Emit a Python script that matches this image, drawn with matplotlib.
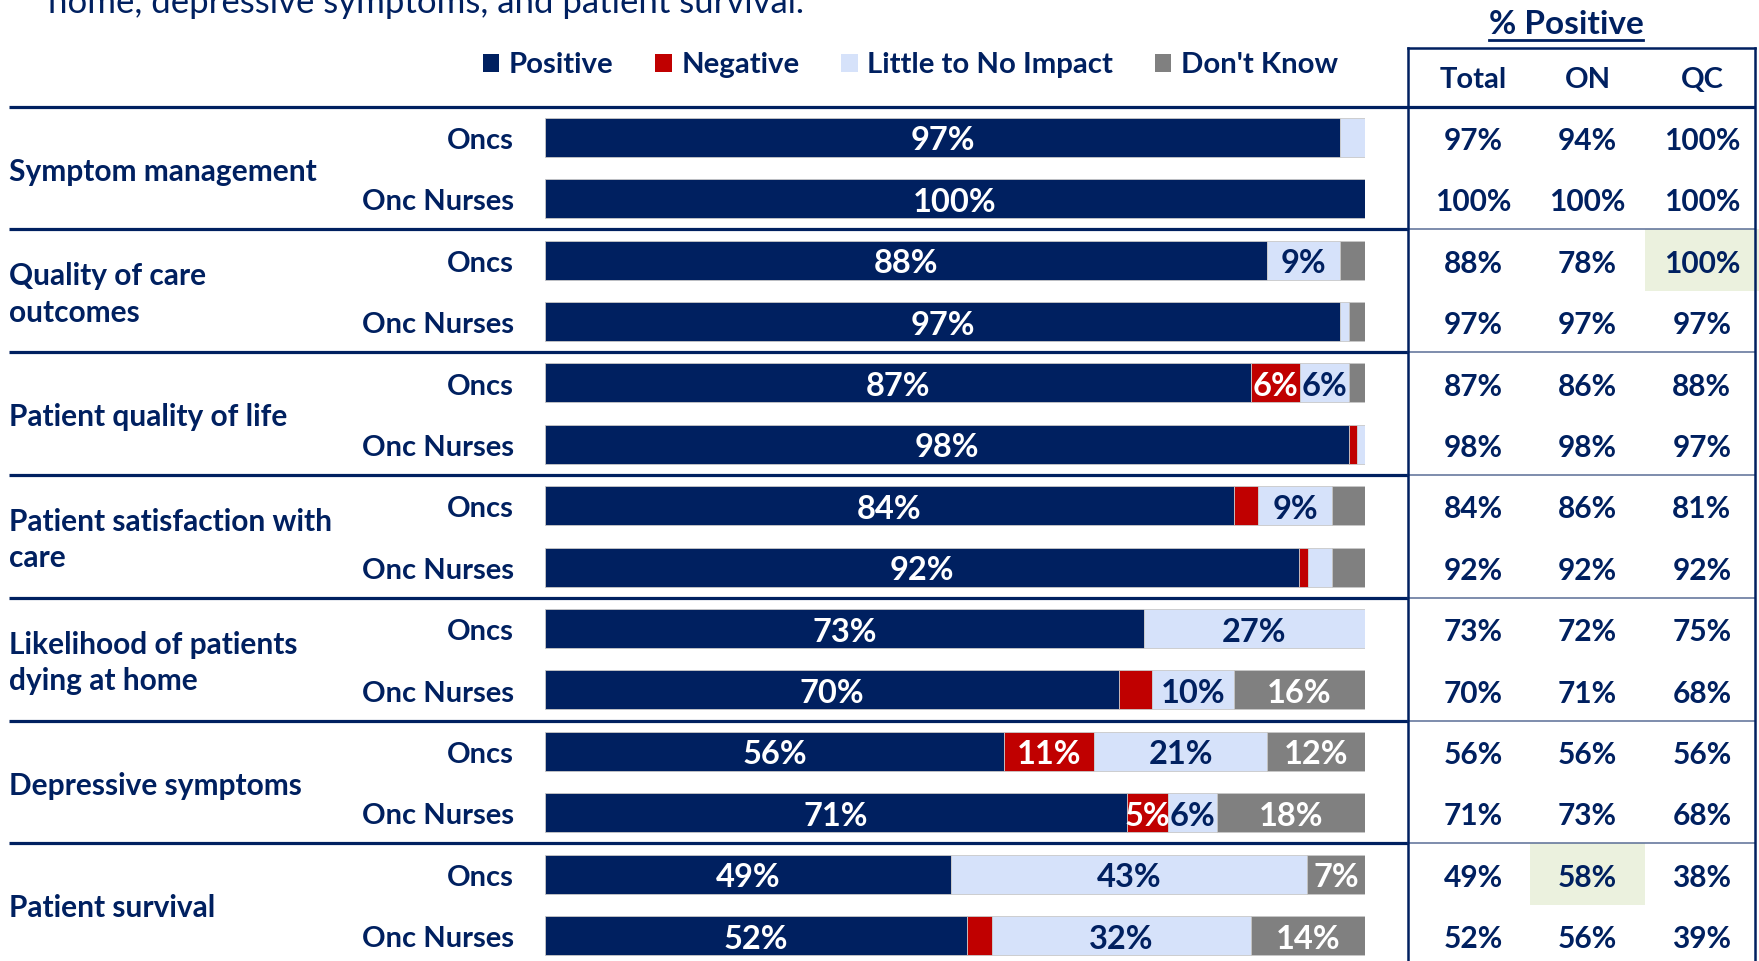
import matplotlib
matplotlib.use("Agg")
import matplotlib.pyplot as plt
import matplotlib.transforms as mtransforms
from matplotlib.patches import Rectangle, Patch
from matplotlib.lines import Line2D
import numpy as np

plt.rcParams["font.family"] = ["Lato", "DejaVu Sans"]

# chart data
categories = [
    "Symptom management",
    "Quality of care\noutcomes",
    "Patient quality of life",
    "Patient satisfaction with\ncare",
    "Likelihood of patients\ndying at home",
    "Depressive symptoms",
    "Patient survival",
]
groups = ["Oncs", "Onc Nurses"]
series = ["Positive", "Negative", "Little to No Impact", "Don't Know"]

positive = [97, 100, 88, 97, 87, 98, 84, 92, 73, 70, 56, 71, 49, 52]
negative = [0, 0, 0, 0, 6, 1, 3, 1, 0, 4, 11, 5, 0, 3]
little = [3, 0, 9, 1, 6, 1, 9, 3, 27, 10, 21, 6, 43, 32]
dont_know = [0, 0, 3, 2, 2, 0, 4, 4, 0, 16, 12, 18, 7, 14]

table_cols = ["Total", "ON", "QC"]
pos_total = [97, 100, 88, 97, 87, 98, 84, 92, 73, 70, 56, 71, 49, 52]
pos_on = [94, 100, 78, 97, 86, 98, 86, 92, 72, 71, 56, 73, 58, 56]
pos_qc = [100, 100, 100, 97, 88, 97, 81, 92, 75, 68, 56, 68, 38, 39]
highlighted = [(2, 2), (12, 1)]  # (row, column)

NAVY = "#002060"
RED = "#C00000"
LIGHT = "#D6E2FA"
GRAY = "#808080"
HILITE = "#EBF1DE"
colors = [NAVY, RED, LIGHT, GRAY]
label_colors = ["white", "white", NAVY, "white"]

W, H = 1759, 961
fig = plt.figure(figsize=(W / 100, H / 100), dpi=100)

n_rows = len(positive)
row_px = 61.4
top_px = 106.6
ybot = -0.5 + (H - top_px) / row_px
dy = 0.06  # text sits a bit low in the rows

# bars
ax = fig.add_axes([545 / W, 0, 820 / W, (H - top_px) / H])
ax.set_xlim(0, 100)
ax.set_ylim(ybot, -0.5)
ax.axis("off")

vals = np.array([positive, negative, little, dont_know], dtype=float)
shares = vals / vals.sum(axis=0) * 100
rows = np.arange(n_rows)
left = np.zeros(n_rows)
for k in range(len(series)):
    ax.barh(rows, shares[k], left=left, height=0.635, color=colors[k],
            edgecolor="#C8C8C8", linewidth=0.6)
    for i in rows:
        if vals[k, i] >= 5:
            ax.text(left[i] + shares[k, i] / 2, i + dy, f"{int(vals[k, i])}%",
                    ha="center", va="center", color=label_colors[k],
                    fontsize=23.5, fontweight="bold")
    left += shares[k]

blend = mtransforms.blended_transform_factory(fig.transFigure, ax.transData)

# row labels
for g, cat in enumerate(categories):
    ax.text(9 / W, 2 * g + 0.5 + dy, cat, transform=blend, ha="left", va="center",
            fontsize=21.5, fontweight="bold", color=NAVY, linespacing=1.38)
for i in rows:
    ax.text(-3.8, i + dy, groups[i % 2], ha="right", va="center",
            fontsize=21, fontweight="bold", color=NAVY)

# separators
for g in range(len(categories)):
    y = 2 * g - 0.5
    x1 = 1755 / W if g == 0 else 1408 / W
    ax.plot([9 / W, x1], [y, y], transform=blend, color=NAVY, lw=2.3,
            clip_on=False, solid_capstyle="butt")

# table
tab = fig.add_axes([1416 / W, 0, 343 / W, (H - top_px) / H])
tab.set_xlim(0, 3)
tab.set_ylim(ybot, -0.5)
tab.axis("off")
for r, c in highlighted:
    tab.add_patch(Rectangle((c, r - 0.5), 1, 1, color=HILITE, zorder=0, lw=0))
for c, col in enumerate([pos_total, pos_on, pos_qc]):
    for i, v in enumerate(col):
        tab.text(c + 0.5, i + dy, f"{v}%", ha="center", va="center",
                 fontsize=21.5, fontweight="bold", color=NAVY)
head_y = -0.5 - (top_px - 80) / row_px
box_top = -0.5 - (top_px - 48) / row_px
for c, name in enumerate(table_cols):
    tab.text(c + 0.5, head_y, name, ha="center", va="center",
             fontsize=21, fontweight="bold", color=NAVY)

tblend = mtransforms.blended_transform_factory(fig.transFigure, tab.transData)
for g in range(1, len(categories)):
    tab.plot([1408 / W, 1755 / W], [2 * g - 0.5] * 2, transform=tblend,
             color="#5A6E96", lw=1.1, clip_on=False)
for xb in [1408 / W, 1755 / W]:
    tab.plot([xb, xb], [box_top, ybot], transform=tblend, color=NAVY, lw=1.8,
             clip_on=False)
tab.plot([1408 / W, 1755 / W], [box_top, box_top], transform=tblend, color=NAVY,
         lw=1.8, clip_on=False)

# "% Positive" header with underline
t = fig.text(1566 / W, 1 - 24 / H, "% Positive", ha="center", va="center",
             fontsize=24, fontweight="bold", color=NAVY)
fig.canvas.draw()
bb = t.get_window_extent().transformed(fig.transFigure.inverted())
fig.add_artist(Line2D([bb.x0, bb.x1], [1 - 40 / H] * 2, color=NAVY, lw=2))

# cut-off subtitle line
fig.text(48 / W, 1 - 13 / H, "home, depressive symptoms, and patient survival.",
         ha="left", va="baseline", fontsize=25, color=NAVY)

# legend
handles = [Patch(facecolor=c, edgecolor="none") for c in colors]
fig.legend(handles, series, loc="center left", bbox_to_anchor=(483 / W, 1 - 65 / H),
           ncol=4, frameon=False, borderpad=0, borderaxespad=0,
           handlelength=0.56, handleheight=0.56, handletextpad=0.32,
           columnspacing=1.42, prop={"size": 21.2, "weight": "bold"},
           labelcolor=NAVY)

fig.savefig("out.png", dpi=100)
